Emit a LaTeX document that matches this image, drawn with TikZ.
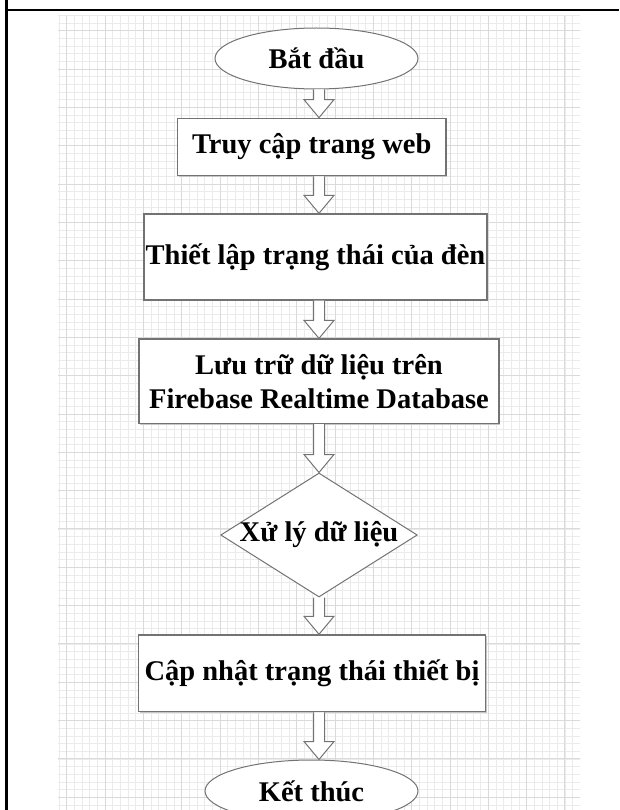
\documentclass[tikz,border=0pt]{standalone}
\usepackage{fontspec}
\setmainfont{Liberation Serif}
\usetikzlibrary{shapes.geometric,calc,shadows}

\definecolor{gridmajor}{HTML}{DADADA}
\definecolor{gridminor}{HTML}{EBEBEB}
\definecolor{edge}{HTML}{737373}

\tikzset{
  lbl/.style={font=\fontsize{28.5}{34}\selectfont\bfseries, text=black,
    align=center, inner sep=0pt},
  procbox/.style={lbl, rectangle, draw=edge, line width=1.3pt, fill=white,
    general shadow={fill=gray!45, shadow xshift=1.3pt, shadow yshift=-1.3pt}},
  termnode/.style={lbl, ellipse, draw=edge, line width=1pt, fill=white},
  decision/.style={lbl, diamond, draw=edge, line width=1pt, fill=white},
  flowarrow/.style={draw=edge, line width=1pt, fill=white, line join=miter},
}

% hollow block arrow running straight down the flow column
\newcommand\flowstep[2]{%
  \path[flowarrow] let \p1=(#1.south -| col), \p2=(#2.north -| col) in
    (\x1-5.5pt,\y1) -- (\x1-5.5pt,\y2+18pt) -- (\x1-15pt,\y2+18pt) --
    (\x2,\y2) -- (\x1+15pt,\y2+18pt) -- (\x1+5.5pt,\y2+18pt) -- (\x1+5.5pt,\y1);
}

\begin{document}
\begin{tikzpicture}[x=1pt,y=-1pt]
\useasboundingbox (0,0) rectangle (619,810);

% page frame
\draw[line width=2.5pt] (6.5,0) -- (6.5,810);
\draw[line width=2.5pt] (5.25,10) -- (619,10);

% background grid
\begin{scope}
  \clip (58,16) rectangle (580,810);
  \foreach \i in {0,...,68}
    \draw[gridminor, line width=0.9pt] ({59+7.667*\i},16) -- ++(0,794);
  \foreach \j in {0,...,104}
    \draw[gridminor, line width=0.9pt] (58,{15.4+7.667*\j}) -- ++(522,0);
  \foreach \i in {0,...,13}
    \draw[gridmajor, line width=1pt] ({66.7+38.33*\i},16) -- ++(0,794);
  \foreach \j in {0,...,20}
    \draw[gridmajor, line width=1pt] (58,{30.7+38.33*\j}) -- ++(522,0);
\end{scope}

\coordinate (col) at (319,0);

% flowchart steps
\node[termnode, minimum width=203pt, minimum height=61pt] (start) at (316.5,58.5) {Bắt đầu};
\node[procbox, minimum width=268.7pt, minimum height=57.4pt] (access) at (311.7,147) {Truy cập trang web};
\node[procbox, minimum width=343pt, minimum height=86pt] (setstate) at (315.5,257) {\makebox[0pt]{Thiết lập trạng thái của đèn}};
\node[procbox, minimum width=360pt, minimum height=84.5pt] (store) at (319,381.3) {Lưu trữ dữ liệu trên\\Firebase Realtime Database};
\node[decision, minimum width=196.6pt, minimum height=124pt] (process) at (319,535) {\makebox[0pt]{Xử lý dữ liệu}};
\node[procbox, minimum width=347.4pt, minimum height=76.7pt] (update) at (312,673.3) {\makebox[0pt]{Cập nhật trạng thái thiết bị}};
\node[termnode, minimum width=213pt, minimum height=62pt] (stop) at (311.5,791) {Kết thúc};

% connectors
\flowstep{start}{access}
\flowstep{access}{setstate}
\flowstep{setstate}{store}
\flowstep{store}{process}
\flowstep{process}{update}
\flowstep{update}{stop}
\end{tikzpicture}
\end{document}
